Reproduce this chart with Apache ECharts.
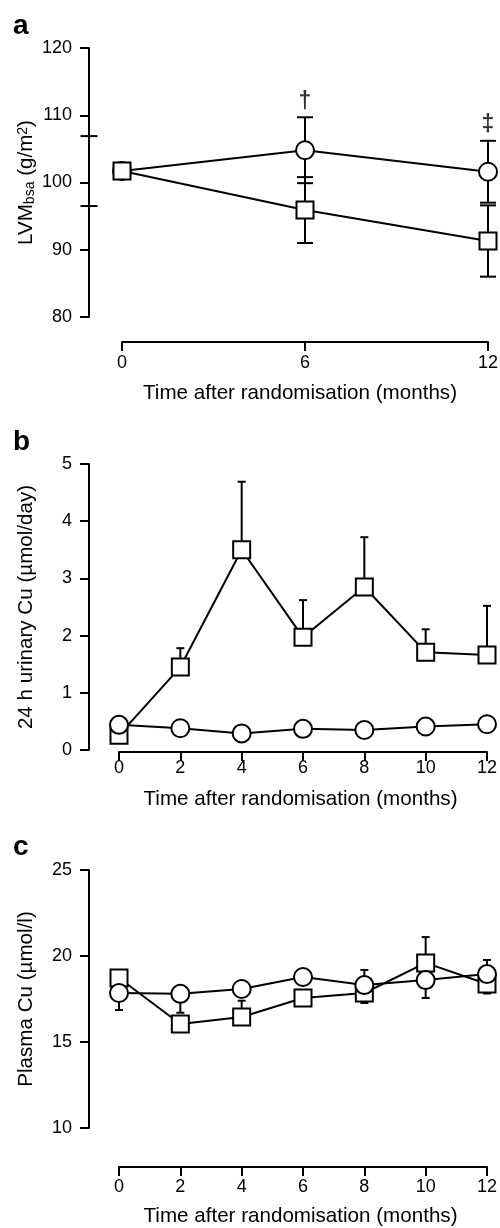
<!DOCTYPE html>
<html><head><meta charset="utf-8">
<script src="https://cdn.jsdelivr.net/npm/echarts@6/dist/echarts.min.js"></script>
<style>html,body{margin:0;padding:0;background:#fff}#c{width:500px;height:1228px}</style>
</head><body><div id="c"></div>
<script>
// ---------- data ----------
// Panel a: LVMbsa (g/m2)
const monthsA = [0, 6, 12];
const aSquare = [101.7, 95.9, 91.3];
const aSquareSD = [null, 4.9, 5.3];
const aCircle = [101.7, 104.8, 101.6];
const aCircleSD = [null, 4.9, 4.6];
const aBaselineRange = [106.9, 96.5];
const aAnnot = [null, '†', '‡'];
const aYTicks = [80, 90, 100, 110, 120];

// Panel b: 24 h urinary Cu (µmol/day)
const monthsBC = [0, 2, 4, 6, 8, 10, 12];
const bSquare = [0.26, 1.45, 3.50, 1.97, 2.85, 1.71, 1.66];
const bSquareUp = [null, 0.33, 1.19, 0.65, 0.87, 0.40, 0.86];
const bCircle = [0.44, 0.38, 0.29, 0.37, 0.35, 0.41, 0.45];

// Panel c: Plasma Cu (µmol/l)
const cSquare = [18.72, 16.05, 16.45, 17.56, 17.85, 19.60, 18.37];
const cSquareUp = [null, null, 0.95, null, null, 1.50, null];
const cSquareDown = [null, null, null, null, 0.58, null, 0.55];
const cCircle = [17.85, 17.80, 18.08, 18.78, 18.31, 18.60, 18.95];
const cCircleUp = [null, null, null, null, 0.88, null, 0.82];
const cCircleDown = [0.99, 1.10, null, null, null, 1.04, null];

// ---------- helpers ----------
const FONT = '"Liberation Sans", Arial, Helvetica, sans-serif';
const BLACK = '#000';

function whiskers(xs, mean, up, down) {
  const out = [];
  xs.forEach((x, i) => {
    if (up && up[i] != null) out.push([x, mean[i], mean[i] + up[i]]);
    if (down && down[i] != null) out.push([x, mean[i], mean[i] - down[i]]);
  });
  return out;
}
function errRender(capHalf) {
  return function (params, api) {
    const x = api.value(0);
    const p0 = api.coord([x, api.value(1)]);
    const p1 = api.coord([x, api.value(2)]);
    const st = { stroke: BLACK, lineWidth: 2 };
    return { type: 'group', children: [
      { type: 'line', shape: { x1: p0[0], y1: p0[1], x2: p1[0], y2: p1[1] }, style: st },
      { type: 'line', shape: { x1: p1[0] - capHalf, y1: p1[1], x2: p1[0] + capHalf, y2: p1[1] }, style: st }
    ]};
  };
}
function pairs(xs, ys) { return xs.map((x, i) => [x, ys[i]]); }

const axisLineStyle = { show: true, onZero: false, lineStyle: { color: BLACK, width: 2 } };
const tickStyle = { show: true, inside: false, length: 9, lineStyle: { color: BLACK, width: 2 } };
const labelStyle = (margin) => ({ color: BLACK, fontSize: 18, fontFamily: FONT, margin: margin });
const NAME_FS = 20.6;
const nameStyle = { color: BLACK, fontSize: NAME_FS, fontFamily: FONT };

function xAxis(gi, interval, offset, margin, gap, shift) {
  return {
    gridIndex: gi, type: 'value', min: 0, max: 12, interval: interval, offset: offset,
    axisLine: axisLineStyle, axisTick: tickStyle, axisLabel: labelStyle(margin), splitLine: { show: false },
    name: 'Time after randomisation (months)', nameLocation: 'middle', nameGap: gap, nameMoveOverlap: false,
    nameTextStyle: Object.assign({}, nameStyle, { padding: [0, shift, 0, 0] })
  };
}
function yAxis(gi, min, max, interval, name, gap, extra) {
  return Object.assign({
    gridIndex: gi, type: 'value', min: min, max: max, interval: interval, offset: 30,
    axisLine: axisLineStyle, axisTick: tickStyle, axisLabel: labelStyle(17), splitLine: { show: false },
    name: name, nameLocation: 'middle', nameRotate: 90, nameGap: gap, nameMoveOverlap: false, nameTextStyle: nameStyle
  }, extra || {});
}
function lineSeries(idx, data, symbol, size, z) {
  return {
    type: 'line', xAxisIndex: idx, yAxisIndex: idx, data: data, symbol: symbol, symbolSize: size,
    showAllSymbol: true, z: z, silent: true,
    lineStyle: { color: BLACK, width: 2 },
    itemStyle: { color: '#fff', borderColor: BLACK, borderWidth: 2 },
    emphasis: { disabled: true }
  };
}
function errSeries(idx, data, capHalf) {
  return { type: 'custom', xAxisIndex: idx, yAxisIndex: idx, data: data, renderItem: errRender(capHalf), z: 1, silent: true, clip: false };
}

const chart = echarts.init(document.getElementById('c'), null, { renderer: 'canvas' });

const titleStyle = { fontSize: 28, fontWeight: 'bold', fontFamily: FONT, color: BLACK };
const option = {
  animation: false,
  backgroundColor: '#fff',
  title: [
    { text: 'a', left: 8, top: 7, textStyle: titleStyle },
    { text: 'b', left: 8, top: 423, textStyle: titleStyle },
    { text: 'c', left: 8, top: 828, textStyle: titleStyle }
  ],
  grid: [
    { left: 122, top: 48, width: 366, height: 269, outerBoundsMode: 'none', containLabel: false },
    { left: 119, top: 464, width: 368, height: 286, outerBoundsMode: 'none', containLabel: false },
    { left: 119, top: 870, width: 368, height: 258, outerBoundsMode: 'none', containLabel: false }
  ],
  xAxis: [
    xAxis(0, 6, 25, 12, 41, 10),
    xAxis(1, 2, 2, 7, 37, 5),
    xAxis(2, 2, 39, 11, 39, 5)
  ],
  yAxis: [
    yAxis(0, aYTicks[0], aYTicks[aYTicks.length - 1], 10, '{n|LVM}{s|bsa}{n| (g/m}{p|2}{n|)}', 52, {
      offset: 33,
      nameTextStyle: Object.assign({}, nameStyle, { rich: {
        n: { fontSize: NAME_FS, fontFamily: FONT, color: BLACK, lineHeight: 21, padding: [0, 0, 4, 0], verticalAlign: 'top' },
        s: { fontSize: 14, fontFamily: FONT, color: BLACK, lineHeight: 14, verticalAlign: 'bottom' },
        p: { fontSize: 14, fontFamily: FONT, color: BLACK, lineHeight: 14, verticalAlign: 'top' }
      } })
    }),
    yAxis(1, 0, 5, 1, '24 h urinary Cu (µmol/day)', 52),
    yAxis(2, 10, 25, 5, 'Plasma Cu (µmol/l)', 52)
  ],
  series: [
    // panel a
    errSeries(0, whiskers(monthsA, aSquare, aSquareSD, aSquareSD), 8),
    errSeries(0, whiskers(monthsA, aCircle, aCircleSD, aCircleSD), 8),
    {
      type: 'custom', xAxisIndex: 0, yAxisIndex: 0, clip: false, silent: true, z: 1,
      data: aBaselineRange.map(v => [0, v]),
      renderItem: function (params, api) {
        const p = api.coord([0, api.value(1)]);
        const ax = p[0] - 33;
        return { type: 'line', shape: { x1: ax - 8.5, y1: p[1], x2: ax + 8.5, y2: p[1] }, style: { stroke: BLACK, lineWidth: 2 } };
      }
    },
    lineSeries(0, pairs(monthsA, aCircle), 'circle', 18, 3),
    lineSeries(0, pairs(monthsA, aSquare), 'rect', 17, 4),
    {
      type: 'scatter', xAxisIndex: 0, yAxisIndex: 0, silent: true, z: 5, symbolSize: 1,
      itemStyle: { color: 'rgba(0,0,0,0)' },
      data: monthsA.map((x, i) => aAnnot[i] ? { value: [x, aCircle[i] + aCircleSD[i]], label: { formatter: aAnnot[i] } } : null).filter(Boolean),
      label: { show: true, position: 'top', distance: 4, color: BLACK, fontSize: 23, fontWeight: 'bold', fontFamily: FONT }
    },
    // panel b
    errSeries(1, whiskers(monthsBC, bSquare, bSquareUp, null), 4),
    lineSeries(1, pairs(monthsBC, bSquare), 'rect', 17, 3),
    lineSeries(1, pairs(monthsBC, bCircle), 'circle', 18, 4),
    // panel c
    errSeries(2, whiskers(monthsBC, cSquare, cSquareUp, cSquareDown), 4),
    errSeries(2, whiskers(monthsBC, cCircle, cCircleUp, cCircleDown), 4),
    lineSeries(2, pairs(monthsBC, cSquare), 'rect', 17, 3),
    lineSeries(2, pairs(monthsBC, cCircle), 'circle', 18, 4)
  ]
};
chart.setOption(option);
</script>
</body></html>
